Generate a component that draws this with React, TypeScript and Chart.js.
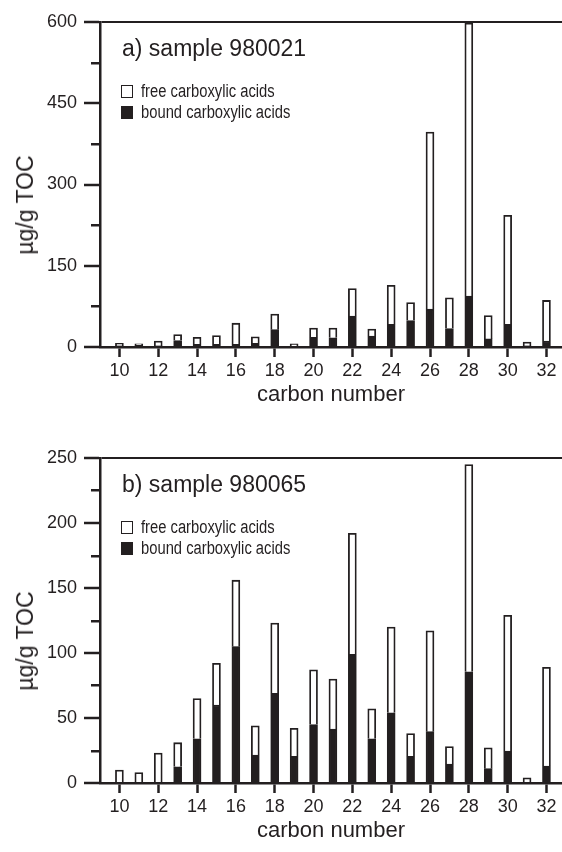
import { useEffect, useRef } from "react";
import { Chart, registerables } from "chart.js";

Chart.register(...registerables);

const carbonNumbers = [10, 11, 12, 13, 14, 15, 16, 17, 18, 19, 20, 21, 22, 23, 24, 25, 26, 27, 28, 29, 30, 31, 32];
const xTickValues = [10, 12, 14, 16, 18, 20, 22, 24, 26, 28, 30, 32];

// sample 980021 (µg/g TOC)
const boundA = [2, 3, 2, 12, 5, 5, 5, 7, 32, 1, 18, 17, 57, 20, 42, 49, 70, 34, 94, 15, 42, 2, 11];
const freeA = [5, 3, 9, 11, 13, 16, 39, 12, 29, 5, 17, 18, 51, 13, 72, 33, 327, 57, 504, 43, 201, 7, 75];
const yMajorA = [0, 150, 300, 450, 600];
const yMinorA = [75, 225, 375, 525];

// sample 980065 (µg/g TOC)
const boundB = [0, 0, 0, 12.5, 34, 60, 105, 21.5, 69, 20.5, 45, 41.5, 99, 34, 54, 20.5, 39.5, 14.5, 85.5, 11, 24.5, 0, 13];
const freeB = [10, 8, 23, 18.5, 31, 32, 51, 22.5, 54, 21.5, 42, 38.5, 93, 23, 66, 17.5, 77.5, 13.5, 159.5, 16, 104.5, 4, 76];
const yMajorB = [0, 50, 100, 150, 200, 250];
const yMinorB = [25, 75, 125, 175, 225];

const DARK = "#231f20";
const FONT = "'Liberation Sans', Arial, Helvetica, sans-serif";
const W = 562;
const H = 436;

const minorTickPlugin = {
  id: "minorTicks",
  afterDraw(chart: any, _args: any, opts: any) {
    const s = chart.scales.y;
    const ctx = chart.ctx;
    ctx.save();
    ctx.strokeStyle = DARK;
    ctx.lineWidth = 2.5;
    (opts.values || []).forEach((v: number) => {
      const y = Math.round(s.getPixelForValue(v)) + 0.25;
      ctx.beginPath();
      ctx.moveTo(s.right - opts.length, y);
      ctx.lineTo(s.right, y);
      ctx.stroke();
    });
    ctx.restore();
  },
};

function makeConfig(bound: number[], free: number[], yMajor: number[], yMinor: number[]): any {
  const yMax = yMajor[yMajor.length - 1];
  return {
    type: "bar",
    data: {
      datasets: [
        {
          label: "bound carboxylic acids",
          data: carbonNumbers.map((c, i) => ({ x: c, y: bound[i] })),
          backgroundColor: DARK,
          borderColor: DARK,
          borderWidth: 1.5,
          barThickness: 8,
        },
        {
          label: "free carboxylic acids",
          data: carbonNumbers.map((c, i) => ({ x: c, y: free[i] })),
          backgroundColor: "#ffffff",
          borderColor: DARK,
          borderWidth: 1.8,
          barThickness: 8,
        },
      ],
    },
    options: {
      responsive: false,
      animation: false,
      layout: { padding: { top: 22, left: 0, right: 0, bottom: 0 } },
      plugins: {
        legend: { display: false },
        tooltip: { enabled: false },
        minorTicks: { values: yMinor, length: 9 },
      },
      scales: {
        x: {
          type: "linear",
          min: 9,
          max: 32.8,
          stacked: true,
          offset: false,
          afterBuildTicks: (s: any) => {
            s.ticks = xTickValues.map((v) => ({ value: v }));
          },
          afterFit: (s: any) => {
            s.height = 89;
          },
          grid: {
            display: true,
            offset: false,
            drawOnChartArea: false,
            drawTicks: true,
            tickLength: 10,
            tickWidth: 2.5,
            tickColor: DARK,
            color: "rgba(0,0,0,0)",
          },
          border: { display: true, color: DARK, width: 2.5, z: 1 },
          ticks: {
            font: { family: FONT, size: 18 },
            color: DARK,
            padding: 3,
            maxRotation: 0,
            autoSkip: false,
          },
          title: {
            display: true,
            text: "carbon number",
            font: { family: FONT, size: 22 },
            color: DARK,
            padding: { top: 0, bottom: 28 },
          },
        },
        y: {
          type: "linear",
          min: 0,
          max: yMax,
          stacked: true,
          afterBuildTicks: (s: any) => {
            s.ticks = yMajor.map((v) => ({ value: v }));
          },
          afterFit: (s: any) => {
            s.width = 100;
          },
          grid: {
            display: true,
            drawOnChartArea: true,
            color: (c: any) => (c.tick && c.tick.value === yMax ? DARK : "rgba(0,0,0,0)"),
            lineWidth: 2,
            drawTicks: true,
            tickLength: 16,
            tickWidth: 2.5,
            tickColor: DARK,
          },
          border: { display: true, color: DARK, width: 2.5 },
          ticks: {
            font: { family: FONT, size: 18 },
            color: DARK,
            padding: 7,
          },
          title: { display: false },
        },
      },
    },
    plugins: [minorTickPlugin],
  };
}

function Panel(props: { top: number; title: string; bound: number[]; free: number[]; yMajor: number[]; yMinor: number[] }) {
  const ref = useRef<HTMLCanvasElement | null>(null);
  useEffect(() => {
    if (!ref.current) return;
    const chart = new Chart(ref.current, makeConfig(props.bound, props.free, props.yMajor, props.yMinor));
    return () => chart.destroy();
  }, []);
  const legendRow = (filled: boolean, text: string, top: number) => (
    <div
      style={{
        position: "absolute",
        left: 121,
        top: top - 11,
        height: 22,
        display: "flex",
        alignItems: "center",
        fontFamily: FONT,
        fontSize: 18,
        color: DARK,
        whiteSpace: "nowrap",
      }}
    >
      <span
        style={{
          display: "inline-block",
          width: 12,
          height: 13,
          boxSizing: "border-box",
          border: `1.5px solid ${DARK}`,
          background: filled ? DARK : "#ffffff",
          marginRight: 8,
        }}
      />
      <span style={{ display: "inline-block", transform: "scaleX(0.82)", transformOrigin: "left center" }}>{text}</span>
    </div>
  );
  return (
    <div style={{ position: "absolute", left: 0, top: props.top, width: W, height: H }}>
      <canvas ref={ref} width={W} height={H} style={{ display: "block", width: W, height: H }} />
      <div
        style={{
          position: "absolute",
          left: 122,
          top: 37,
          fontFamily: FONT,
          fontSize: 23,
          lineHeight: "22px",
          color: DARK,
          whiteSpace: "nowrap",
        }}
      >
        {props.title}
      </div>
      {legendRow(false, "free carboxylic acids", 91)}
      {legendRow(true, "bound carboxylic acids", 112)}
      <div
        style={{
          position: "absolute",
          left: 25,
          top: 205,
          width: 0,
          height: 0,
        }}
      >
        <div
          style={{
            position: "absolute",
            left: 0,
            top: 0,
            transform: "translate(-50%, -50%) rotate(-90deg)",
            fontFamily: FONT,
            fontSize: 23,
            lineHeight: "26px",
            color: DARK,
            whiteSpace: "nowrap",
          }}
        >
          µg/g TOC
        </div>
      </div>
    </div>
  );
}

export default function App() {
  return (
    <div style={{ position: "absolute", left: 0, top: 0, width: W, height: 852, overflow: "hidden", background: "#ffffff" }}>
      <Panel top={0} title="a) sample 980021" bound={boundA} free={freeA} yMajor={yMajorA} yMinor={yMinorA} />
      <Panel top={436} title="b) sample 980065" bound={boundB} free={freeB} yMajor={yMajorB} yMinor={yMinorB} />
    </div>
  );
}
